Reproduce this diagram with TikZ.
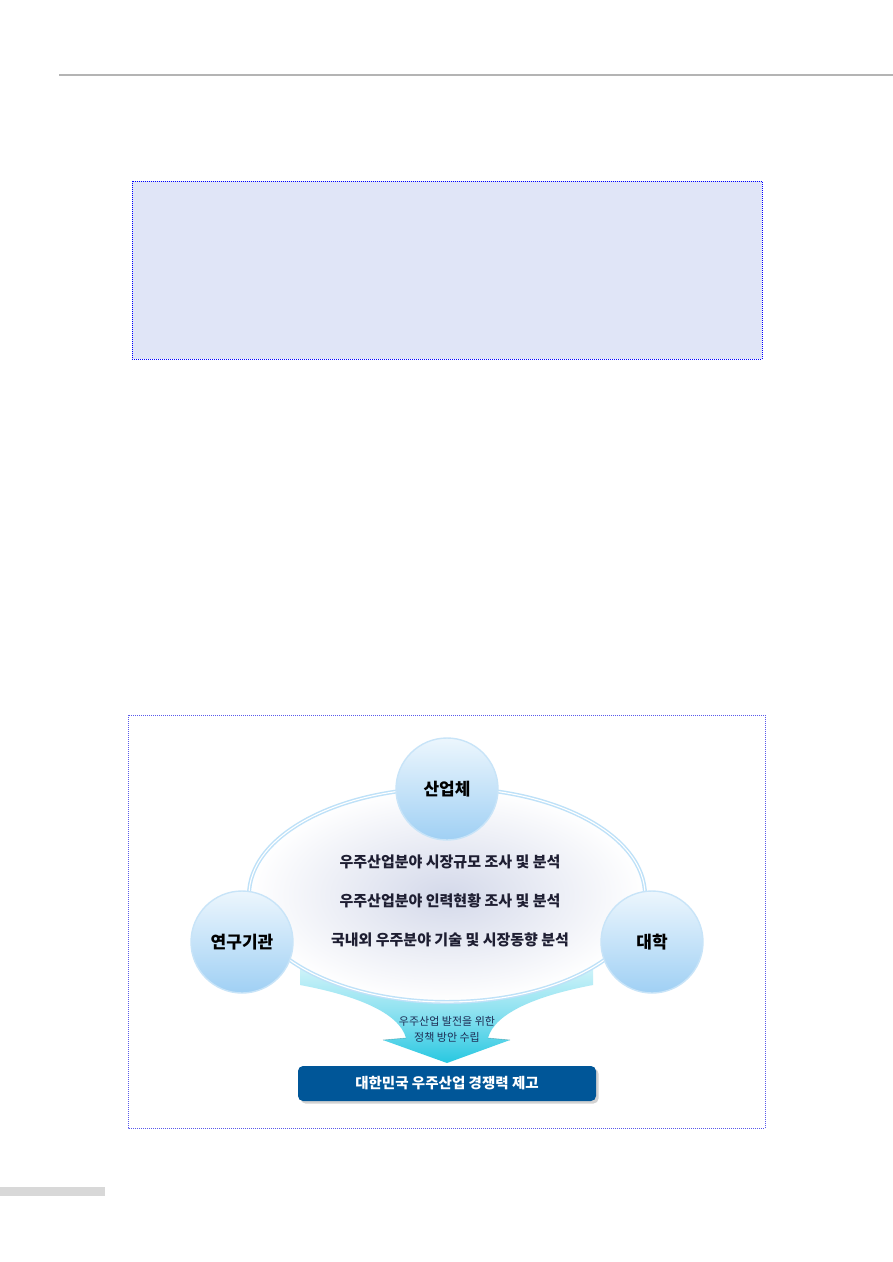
\documentclass[tikz,border=0pt]{standalone}
\usepackage{fontspec}
\newfontfamily\kr{Noto Sans CJK KR}
\usetikzlibrary{shadows}
\definecolor{ruleGray}{RGB}{180,180,180}
\definecolor{boxFill}{RGB}{224,229,247}
\definecolor{dotBlue}{RGB}{0,0,255}
\definecolor{frameBlue}{RGB}{90,90,235}
\definecolor{barGray}{RGB}{216,216,216}
\definecolor{ringBlue}{RGB}{190,225,248}
\definecolor{ellCenter}{RGB}{212,217,234}
\definecolor{circTop}{RGB}{236,246,253}
\definecolor{circBot}{RGB}{160,208,244}
\definecolor{circEdge}{RGB}{200,228,248}
\definecolor{cyanTop}{RGB}{215,245,250}
\definecolor{cyanMid}{RGB}{140,225,240}
\definecolor{cyanBot}{RGB}{40,200,225}
\definecolor{navy}{RGB}{0,86,152}
\definecolor{txtDark}{RGB}{30,30,50}
\definecolor{txtArrow}{RGB}{30,45,85}
\tikzset{
  dotframe/.style={draw=dotBlue, line width=0.7pt, dash pattern=on 1pt off 1pt},
  actor/.style={circle, minimum size=102pt, inner sep=0pt, top color=circTop, bottom color=circBot, draw=circEdge, line width=1.4pt, font=\kr\bfseries\fontsize{17}{19}\selectfont, text=black},
  item/.style={font=\kr\bfseries\fontsize{15}{17}\selectfont, text=txtDark, inner sep=0pt},
  arrowtxt/.style={font=\kr\fontsize{11}{13}\selectfont, text=txtArrow, inner sep=0pt},
  goal/.style={rounded corners=5pt, fill=navy, minimum width=298pt, minimum height=35pt, text=white, font=\kr\bfseries\fontsize{14.5}{16}\selectfont, drop shadow={shadow xshift=2.5pt, shadow yshift=-2.5pt, opacity=0.35}}
}
\begin{document}
\begin{tikzpicture}[x=1pt,y=-1pt]
\useasboundingbox (0,0) rectangle (893,1262);
\fill[white] (0,0) rectangle (893,1262);
% header rule
\draw[ruleGray, line width=1.3pt] (59,75) -- (893,75);
% upper blue box
\fill[boxFill] (132,181) rectangle (762,359);
\draw[dotframe] (132,181) rectangle (762,359);
% lower frame
\draw[dotframe, draw=frameBlue, line width=0.5pt] (128,715) rectangle (765,1128);
% footer bar
\fill[barGray] (0,1187) rectangle (105,1196);
% funnel arrow
\shade[top color=cyanTop, bottom color=cyanBot, middle color=cyanMid]
  (300,962) -- (593,962) -- (593,985)
  .. controls (540,995) and (495,1012) .. (488,1038) -- (510,1040) -- (447,1063) -- (383,1040) -- (406,1038)
  .. controls (399,1012) and (354,995) .. (300,985) -- cycle;
\draw[cyanBot!60!black, opacity=0.4, line width=0.6pt] (383,1040) -- (406,1038);
\draw[cyanBot!60!black, opacity=0.4, line width=0.6pt] (488,1038) -- (510,1040);
% central ellipse
\shade[inner color=ellCenter, outer color=white] (447,895) ellipse [x radius=198pt, y radius=107pt];
\draw[ringBlue, line width=4pt] (447,895) ellipse [x radius=198pt, y radius=107pt];
\draw[white, line width=1.1pt] (447,895) ellipse [x radius=198pt, y radius=107pt];
% actors
\node[actor] (ind) at (447,789) {산업체};
\node[actor] (res) at (242,942) {연구기관};
\node[actor] (uni) at (652,942) {대학};
% items
\node[item] (i1) at (450,862) {우주산업분야 시장규모 조사 및 분석};
\node[item] (i2) at (450,901) {우주산업분야 인력현황 조사 및 분석};
\node[item] (i3) at (450,940) {국내외 우주분야 기술 및 시장동향 분석};
% arrow text
\node[arrowtxt] (a1) at (447,1021) {우주산업 발전을 위한};
\node[arrowtxt] (a2) at (447,1037) {정책 방안 수립};
% goal box
\node[goal] (goal) at (447,1083.5) {대한민국 우주산업 경쟁력 제고};
\end{tikzpicture}
\end{document}
